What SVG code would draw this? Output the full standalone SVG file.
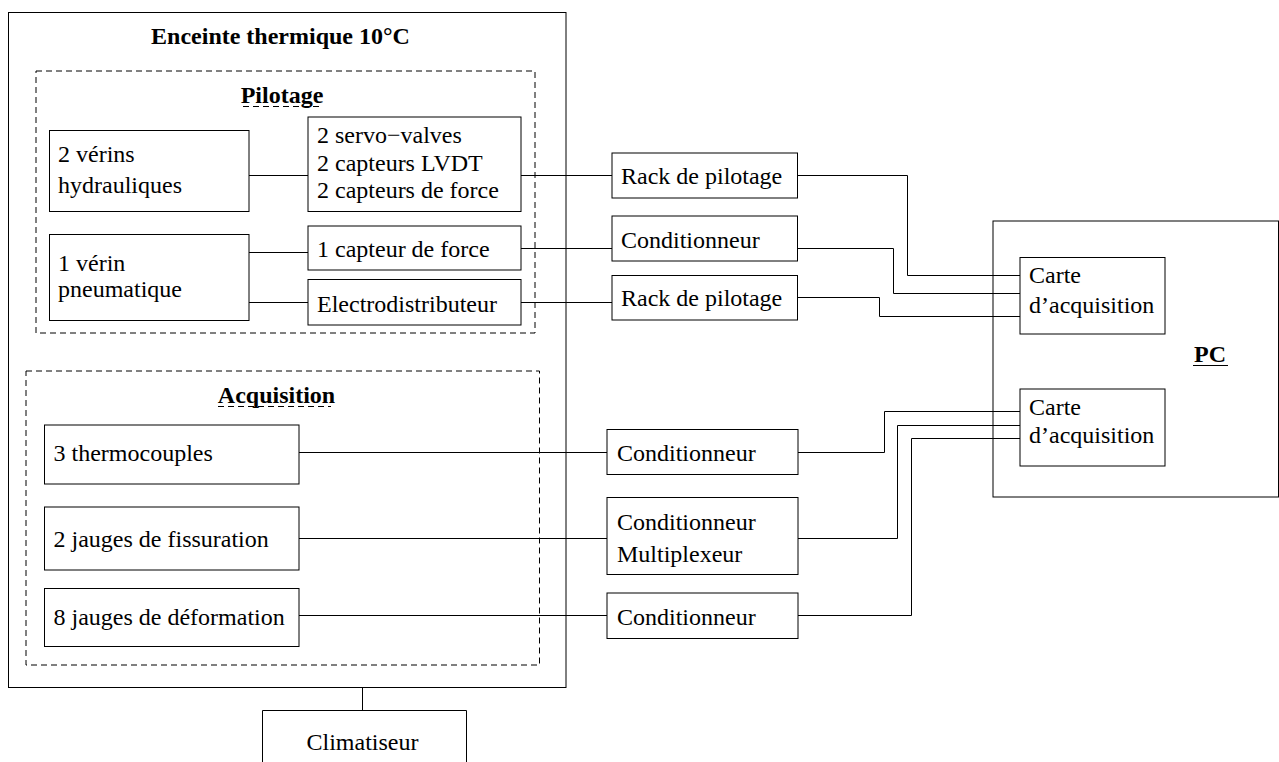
<svg xmlns="http://www.w3.org/2000/svg" width="1279" height="762" viewBox="0 0 1279 762">
<style>
.b{fill:#fff;stroke:#000;stroke-width:1}
.d{fill:none;stroke:#000;stroke-width:1;stroke-dasharray:6 4}
.c{fill:none;stroke:#000;stroke-width:1}
text{font-family:"Liberation Serif","Times New Roman",serif;font-size:24px;fill:#000}
.t{font-weight:bold;text-anchor:middle}
.m{text-anchor:middle}
</style>
<rect width="1279" height="762" fill="#fff"/>
<g id="enceinte">
<rect class="b" x="8.5" y="12.5" width="557.5" height="675"/>
<text class="t" x="280.5" y="44">Enceinte thermique 10°C</text>
</g>
<g id="pilotage">
<rect class="d" x="36" y="71" width="499" height="262"/>
<text class="t" x="282" y="102.5">Pilotage</text>
<line class="d" x1="243" y1="106.5" x2="320" y2="106.5"/>
</g>
<g id="acquisition">
<rect class="d" x="26" y="371" width="513.5" height="294"/>
<text class="t" x="276.5" y="402.5">Acquisition</text>
<line class="d" x1="218" y1="406.5" x2="331" y2="406.5"/>
</g>
<g id="connectors">
<path class="c" d="M249 175.5H308M249 252.5H308M249 302.5H308"/>
<path class="c" d="M521 175.5H612M521 248.5H612M521 302.5H612"/>
<path class="c" d="M797.5 175.5H907.5V275.5H1020"/>
<path class="c" d="M797.5 248.5H893.5V293.5H1020"/>
<path class="c" d="M797.5 297.5H879.5V316.5H1020"/>
<path class="c" d="M299 452.5H607M299 538.5H607M299 615.5H607"/>
<path class="c" d="M798 452.5H884.5V411.5H1020"/>
<path class="c" d="M798 538.5H897.5V425.5H1020"/>
<path class="c" d="M798 615.5H911.5V438.5H1020"/>
<path class="c" d="M362.5 687.5V710"/>
</g>
<g id="verins-hydrauliques">
<rect class="b" x="49.5" y="130.5" width="199.5" height="81"/>
<text x="58" y="162">2 vérins</text>
<text x="58" y="193">hydrauliques</text>
</g>
<g id="servo">
<rect class="b" x="308" y="117" width="213" height="94.5"/>
<text x="317" y="143">2 servo−valves</text>
<text x="317" y="170.5">2 capteurs LVDT</text>
<text x="317" y="197.5">2 capteurs de force</text>
</g>
<g id="verin-pneumatique">
<rect class="b" x="49.5" y="234.5" width="199.5" height="86"/>
<text x="58" y="270.5">1 vérin</text>
<text x="58" y="297">pneumatique</text>
</g>
<g id="capteur-force">
<rect class="b" x="308" y="226" width="213" height="44"/>
<text x="317" y="256.5">1 capteur de force</text>
</g>
<g id="electrodistributeur">
<rect class="b" x="308" y="279.5" width="213" height="45.5"/>
<text x="317" y="311.5">Electrodistributeur</text>
</g>
<g id="rack1">
<rect class="b" x="612" y="153" width="185.5" height="45"/>
<text x="621" y="184">Rack de pilotage</text>
</g>
<g id="cond1">
<rect class="b" x="612" y="216" width="185.5" height="45"/>
<text x="621" y="247.5">Conditionneur</text>
</g>
<g id="rack2">
<rect class="b" x="612" y="275.5" width="185.5" height="44.5"/>
<text x="621" y="306">Rack de pilotage</text>
</g>
<g id="thermocouples">
<rect class="b" x="44.5" y="425" width="254.5" height="59"/>
<text x="53.5" y="461">3 thermocouples</text>
</g>
<g id="fissuration">
<rect class="b" x="44.5" y="507" width="254.5" height="63"/>
<text x="53.5" y="547">2 jauges de fissuration</text>
</g>
<g id="deformation">
<rect class="b" x="44.5" y="588.5" width="254.5" height="58"/>
<text x="53.5" y="625">8 jauges de déformation</text>
</g>
<g id="cond-thermo">
<rect class="b" x="607" y="429.5" width="191" height="45"/>
<text x="617" y="460.5">Conditionneur</text>
</g>
<g id="cond-mux">
<rect class="b" x="607" y="497.5" width="191" height="77"/>
<text x="617" y="529.5">Conditionneur</text>
<text x="617" y="562">Multiplexeur</text>
</g>
<g id="cond-def">
<rect class="b" x="607" y="593" width="191" height="45.5"/>
<text x="617" y="625">Conditionneur</text>
</g>
<g id="pc">
<rect class="c" x="993" y="221" width="285.5" height="276"/>
<text class="t" x="1210" y="361.5">PC</text>
<line class="c" x1="1193" y1="365.5" x2="1228" y2="365.5"/>
</g>
<g id="carte1">
<rect class="b" x="1020" y="257.5" width="145" height="76.5"/>
<text x="1029" y="283">Carte</text>
<text x="1029" y="312.5">d’acquisition</text>
</g>
<g id="carte2">
<rect class="b" x="1020" y="389" width="145" height="77"/>
<text x="1029" y="415">Carte</text>
<text x="1029" y="442.5">d’acquisition</text>
</g>
<g id="climatiseur">
<path class="c" d="M262.5 770V710.5H466.5V770"/>
<text class="m" x="362.5" y="750">Climatiseur</text>
</g>
</svg>
